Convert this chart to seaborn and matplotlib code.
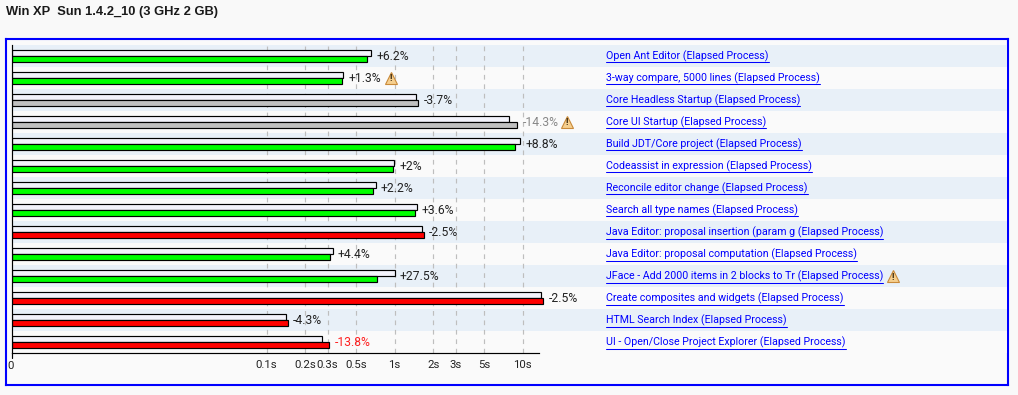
import numpy as np
import pandas as pd
import matplotlib
matplotlib.use("Agg")
import matplotlib.pyplot as plt
import seaborn as sns

scenarios = ["Open Ant Editor (Elapsed Process)", "3-way compare, 5000 lines (Elapsed Process)",
             "Core Headless Startup (Elapsed Process)", "Core UI Startup (Elapsed Process)",
             "Build JDT/Core project (Elapsed Process)", "Codeassist in expression (Elapsed Process)",
             "Reconcile editor change (Elapsed Process)", "Search all type names (Elapsed Process)",
             "Java Editor: proposal insertion (param g (Elapsed Process)",
             "Java Editor: proposal computation (Elapsed Process)",
             "JFace - Add 2000 items in 2 blocks to Tr (Elapsed Process)",
             "Create composites and widgets (Elapsed Process)", "HTML Search Index (Elapsed Process)",
             "UI - Open/Close Project Explorer (Elapsed Process)"]
reference = [0.658, 0.397, 1.478, 7.87, 9.60, 0.995, 0.711, 1.485, 1.625, 0.328, 1.0, 14.0, 0.1425, 0.272]
current = [0.612, 0.390, 1.532, 9.09, 8.77, 0.977, 0.679, 1.446, 1.685, 0.3105, 0.723, 14.5, 0.1467, 0.309]
deltas = ["+6.2%", "+1.3%", "-3.7%", "-14.3%", "+8.8%", "+2%", "+2.2%", "+3.6%", "-2.5%", "+4.4%", "+27.5%",
          "-2.5%", "-4.3%", "-13.8%"]
bar_colors = ["#00FF00", "#00FF00", "#C0C0C0", "#C0C0C0", "#00FF00", "#00FF00", "#00FF00", "#00FF00", "#FF0000",
              "#00FF00", "#00FF00", "#FF0000", "#FF0000", "#FF0000"]
delta_colors = ["#222222", "#222222", "#222222", "#888888", "#222222", "#222222", "#222222", "#222222", "#222222",
                "#222222", "#222222", "#222222", "#222222", "#FF2020"]
# icon x position in pixels for the rows that have a warning triangle
warn_rows = {1: 391, 3: 567, 10: 893}
tick_values = [0.00102, 0.1, 0.2, 0.3, 0.5, 1, 2, 3, 5, 10]
tick_labels = ["0", "0.1s", "0.2s", "0.3s", "0.5s", "1s", "2s", "3s", "5s", "10s"]

W, H = 1018, 395
BG = "#F9F9F9"
FS = 8.2
LINK_FS = 7.7
LEFT, RIGHT = 12.0, 1007.0
ONE_SEC = 394.6

sns.set_theme(style="white")
plt.rcParams["font.family"] = ["Roboto", "DejaVu Sans"]

fig = plt.figure(figsize=(W / 100, H / 100), dpi=100, facecolor=BG)

# blue frame
frame = fig.add_axes([6 / W, 1 - 384.7 / H, 1002 / W, 345.4 / H])
frame.set_facecolor("#FAFAFA")
frame.set_xticks([])
frame.set_yticks([])
for s in frame.spines.values():
    s.set_color("#0000FF")
    s.set_linewidth(1.5)

ax = fig.add_axes([LEFT / W, 1 - 353.2 / H, (RIGHT - LEFT) / W, 308.2 / H])
ax.patch.set_alpha(0)

df = pd.DataFrame({
    "scenario": scenarios * 2,
    "seconds": reference + current,
    "build": ["reference"] * 14 + ["current"] * 14,
})
sns.barplot(data=df, y="scenario", x="seconds", hue="build", hue_order=["reference", "current"],
            order=scenarios, width=0.545, gap=0, log_scale=10, legend=False, ax=ax, zorder=2,
            palette={"reference": "#F3F3FB", "current": "#00FF00"}, edgecolor="black", linewidth=0.85,
            saturation=1)

x_left = 10 ** ((LEFT - ONE_SEC) / 128)
x_right = 10 ** ((RIGHT - ONE_SEC) / 128)

# log axis has no zero, so the bars have to start from the left limit
for cont, vals in zip(ax.containers, [reference, current]):
    for bar, v in zip(cont, vals):
        bar.set_x(x_left)
        bar.set_width(v - x_left)
for bar, c in zip(ax.containers[1], bar_colors):
    bar.set_facecolor(c)

ax.set_xlim(x_left, x_right)
ax.set_ylim(13.5, -0.5)

for i in range(14):
    ax.axhspan(i - 0.5, i + 0.5, color="#E8F0F8" if i % 2 == 0 else "#FAFAFA", zorder=0, lw=0)

ax.set_xticks(tick_values[1:])
ax.set_xticks([], minor=True)
ax.set_xticklabels(tick_labels[1:], fontsize=FS, color="#222222")
ax.tick_params(axis="x", length=0, pad=5)
ax.set_yticks([])
ax.set_xlabel("")
ax.set_ylabel("")
ax.grid(axis="x", color="#BEBEBE", linestyle=(0, (4, 4)), linewidth=0.85)
ax.set_axisbelow(True)
ax.annotate(tick_labels[0], (x_left, 0), xycoords=ax.get_xaxis_transform(), xytext=(-1, -9),
            textcoords="offset points", fontsize=FS, color="#222222", ha="center", va="center")

for s in ["top", "right"]:
    ax.spines[s].set_visible(False)
for s in ["left", "bottom"]:
    ax.spines[s].set_color("black")
    ax.spines[s].set_linewidth(0.85)
ax.spines["bottom"].set_bounds(x_left, 10 ** ((539 - ONE_SEC) / 128))
ax.plot([x_left, x_left], [0, -0.016], color="black", lw=0.85, clip_on=False, transform=ax.get_xaxis_transform())

px = lambda x: (x - LEFT) / (RIGHT - LEFT)
trans = ax.get_yaxis_transform()

for i in range(14):
    ax.annotate(deltas[i], (max(reference[i], current[i]), i), xytext=(3.8, 0), textcoords="offset points",
                fontsize=8.7, color=delta_colors[i], va="center", zorder=4)

fig.canvas.draw()
rend = fig.canvas.get_renderer()
for i, name in enumerate(scenarios):
    t = ax.text(px(606), i, name, transform=trans, fontsize=LINK_FS, color="#0000FF", va="center", zorder=4)
    box = t.get_window_extent(rend)
    ax.plot([px(606), px(606) + box.width / ax.bbox.width], [i + 0.29, i + 0.29], color="#0000FF", lw=0.75,
            transform=trans, zorder=4)

# warning triangles
for i, x in warn_rows.items():
    ax.plot(px(x), i, marker="^", ms=8, mfc="#F6CF8E", mec="#C98A3A", mew=0.8, transform=trans, zorder=4, clip_on=False)
    ax.text(px(x), i + 0.04, "!", transform=trans, fontsize=6.5, fontweight="bold", color="#3A2A10", ha="center",
            va="center", zorder=5)

fig.text(5.5 / W, 1 - 12 / H, "Win XP  Sun 1.4.2_10 (3 GHz 2 GB)", fontsize=9.3, fontweight="bold", color="#1A1A1A",
         va="center", family="Liberation Sans")

fig.savefig("out.png", dpi=100, facecolor=BG)
